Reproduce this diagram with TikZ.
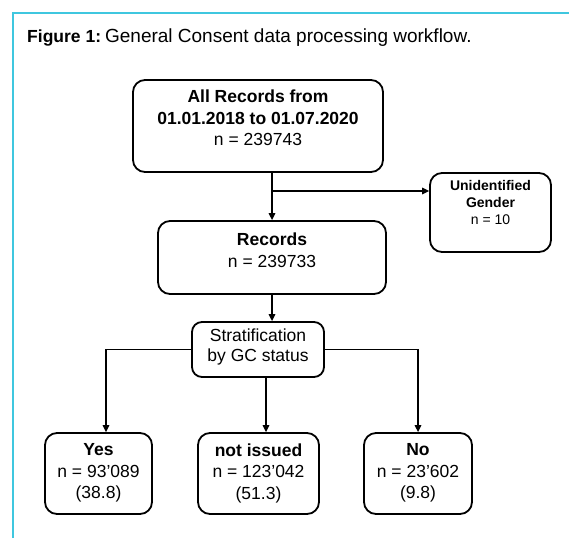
\documentclass[tikz,border=0pt]{standalone}
\usepackage{fontspec}
\setmainfont{Liberation Sans}
\usetikzlibrary{arrows.meta}
\definecolor{framecyan}{HTML}{3FC7DF}
\tikzset{
  box/.style={draw, line width=1.8pt, rounded corners=12pt, inner sep=0pt},
  txt/.style={align=center, inner sep=0pt, font=\fontsize{17.5}{21.5}\selectfont},
  smalltxt/.style={align=center, inner sep=0pt, font=\fontsize{14}{17}\selectfont},
  link/.style={line width=1.4pt},
  arr/.style={link, -{Triangle[length=7pt,width=6.5pt]}},
}
\begin{document}
\begin{tikzpicture}[x=1pt,y=-1pt]
\useasboundingbox (0,0) rectangle (569,538);
\fill[white] (0,0) rectangle (569,538);
\draw[framecyan, line width=2pt] (13,538) -- (13,13) -- (569,13);

\node[anchor=base west, inner sep=0pt, font=\fontsize{19}{22}\selectfont] (cap) at (27,42)
  {{\fontsize{17.5}{22}\selectfont\textbf{Figure 1:}}\hspace{4pt}General Consent data processing workflow.};

% boxes
\node[box, minimum width=250pt, minimum height=92pt] (all) at (258,126) {};
\node[txt] (allt) at (258,118) {\textbf{All Records from}\\\textbf{01.01.2018 to 01.07.2020}\\n = 239743};

\node[box, minimum width=121pt, minimum height=79pt] (unid) at (490.5,212.5) {};
\node[smalltxt] (unidt) at (490.5,202) {\textbf{Unidentified}\\\textbf{Gender}\\n = 10};

\node[box, minimum width=228pt, minimum height=73pt] (rec) at (272,257.5) {};
\node[txt] (rect) at (272,250) {\textbf{Records}\\n = 239733};

\node[box, minimum width=132pt, minimum height=55pt, rounded corners=10pt] (strat) at (258,349.5) {};
\node[txt, font=\fontsize{17.5}{20.5}\selectfont] (stratt) at (258,347) {Stratification\\by GC status};

\node[box, minimum width=107pt, minimum height=81pt] (yes) at (98.5,473.5) {};
\node[txt] (yest) at (98.5,473) {\textbf{Yes}\\n = 93’089\\(38.8)};

\node[box, minimum width=121pt, minimum height=81pt] (noti) at (258.5,473.5) {};
\node[txt] (notit) at (258.5,473) {\textbf{not issued}\\n = 123’042\\(51.3)};

\node[box, minimum width=108pt, minimum height=81pt] (no) at (418,473.5) {};
\node[txt] (not) at (418,473) {\textbf{No}\\n = 23’602\\(9.8)};

% connectors
\coordinate (br) at (272,191);
\draw[arr] (all.south -| rec.north) -- (rec.north);
\draw[arr] (br) -- (br -| unid.west);
\draw[arr] (rec.south -| 272,0) -- (strat.north -| 272,0);
\draw[arr] (strat.south -| 266,0) -- (noti.north -| 266,0);
\draw[arr] (strat.west) -| ([xshift=7.5pt]yes.north);
\draw[arr] (strat.east) -| (no.north);
\end{tikzpicture}
\end{document}
